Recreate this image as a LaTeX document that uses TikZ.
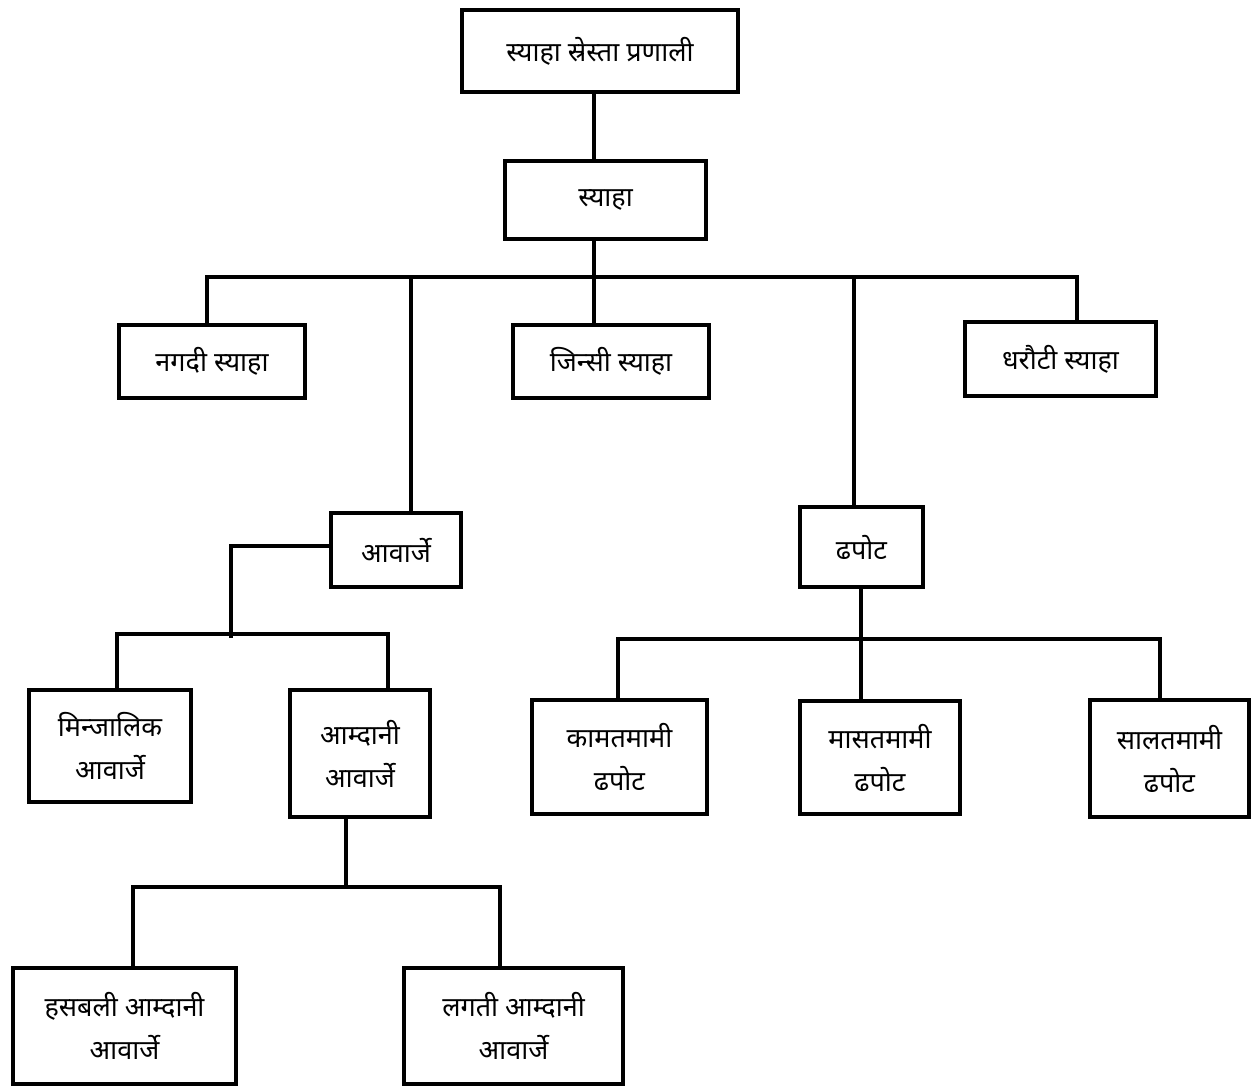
\documentclass[tikz,border=0pt]{standalone}
\usepackage{fontspec}
\newfontfamily\deva[Script=Devanagari]{Noto Sans}
\begin{document}
\begin{tikzpicture}[x=1pt,y=-1pt,
  box/.style={draw=black,line width=4pt,inner sep=0pt,align=center,
    font=\deva\fontsize{27}{43}\selectfont},
  link/.style={draw=black,line width=4pt}]
\useasboundingbox[fill=white] (0,0) rectangle (1253,1088);

% boxes
\node[box,minimum width=276pt,minimum height=82pt] (root) at (600,51) {स्याहा स्रेस्ता प्रणाली};
\node[box,minimum width=201pt,minimum height=78pt] (syaha) at (605.5,200) {स्याहा};
\node[box,minimum width=186pt,minimum height=73pt] (nagadi) at (212,361.5) {नगदी स्याहा};
\node[box,minimum width=196pt,minimum height=73pt] (jinsi) at (611,361.5) {जिन्सी स्याहा};
\node[box,minimum width=191pt,minimum height=74pt] (dharauti) at (1060.5,359) {धरौटी स्याहा};
\node[box,minimum width=130pt,minimum height=74pt] (aavarje) at (396,550) {आवार्जे};
\node[box,minimum width=123pt,minimum height=80pt] (dhapot) at (861.5,547) {ढपोट};
\node[box,minimum width=162pt,minimum height=112pt] (minjalik) at (110,746) {मिन्जालिक\\आवार्जे};
\node[box,minimum width=140pt,minimum height=127pt] (aamdani) at (360,753.5) {आम्दानी\\आवार्जे};
\node[box,minimum width=223pt,minimum height=116pt] (hasbali) at (124.5,1026) {हसबली आम्दानी\\आवार्जे};
\node[box,minimum width=219pt,minimum height=116pt] (lagati) at (513.5,1026) {लगती आम्दानी\\आवार्जे};
\node[box,minimum width=175pt,minimum height=114pt] (kamat) at (619.5,757) {कामतमामी\\ढपोट};
\node[box,minimum width=160pt,minimum height=113pt] (masat) at (880,757.5) {मासतमामी\\ढपोट};
\node[box,minimum width=159pt,minimum height=117pt] (salat) at (1169.5,758.5) {सालतमामी\\ढपोट};

% bus points
\coordinate (trunk) at (594,277);
\coordinate (busL) at (207,277);
\coordinate (busR) at (1077,277);
\coordinate (busA) at (411,277);
\coordinate (busD) at (854,277);
\coordinate (aTurn) at (231,546);
\coordinate (aDrop) at (231,638);
\coordinate (aL) at (117,634);
\coordinate (aR) at (388,634);
\coordinate (iDrop) at (346,887);
\coordinate (iL) at (133,887);
\coordinate (iR) at (500,887);
\coordinate (dDrop) at (861,639);
\coordinate (dL) at (618,639);
\coordinate (dR) at (1160,639);

% connectors
\draw[link] (root.south -| trunk) -- (syaha.north -| trunk);
\draw[link] (syaha.south -| trunk) -- (jinsi.north -| trunk);
\draw[link] (nagadi.north -| busL) -- (busL) -- (busR) -- (dharauti.north -| busR);
\draw[link] (busA) -- (aavarje.north -| busA);
\draw[link] (busD) -- (dhapot.north -| busD);

\draw[link] (aavarje.west |- aTurn) -- (aTurn) -- (aDrop);
\draw[link] (minjalik.north -| aL) -- (aL) -- (aR) -- (aamdani.north -| aR);

\draw[link] (aamdani.south -| iDrop) -- (iDrop);
\draw[link] (hasbali.north -| iL) -- (iL) -- (iR) -- (lagati.north -| iR);

\draw[link] (dhapot.south -| dDrop) -- (masat.north -| dDrop);
\draw[link] (kamat.north -| dL) -- (dL) -- (dR) -- (salat.north -| dR);
\end{tikzpicture}
\end{document}
